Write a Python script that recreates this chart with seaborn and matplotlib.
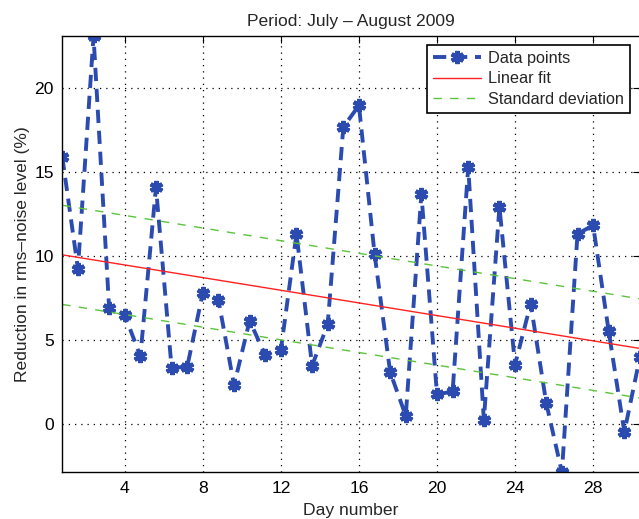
import numpy as np
import pandas as pd
import matplotlib
matplotlib.use("Agg")
import matplotlib.pyplot as plt
import seaborn as sns

# Daily measurements (day number, % reduction in rms-noise level)
days = [0.8, 1.6, 2.4, 3.2, 4.0, 4.8, 5.6, 6.4, 7.2, 8.0,
        8.8, 9.6, 10.4, 11.2, 12.0, 12.8, 13.6, 14.4, 15.2, 16.0,
        16.8, 17.6, 18.4, 19.2, 20.0, 20.8, 21.6, 22.4, 23.2, 24.0,
        24.8, 25.6, 26.4, 27.2, 28.0, 28.8, 29.6, 30.4]
reduction = [15.9, 9.25, 23.1, 6.9, 6.5, 4.05, 14.1, 3.36, 3.42, 7.82,
             7.4, 2.32, 6.17, 4.09, 4.43, 11.33, 3.48, 5.95, 17.68, 18.97,
             10.14, 3.1, 0.5, 13.7, 1.77, 1.95, 15.3, 0.26, 12.92, 3.55,
             7.17, 1.25, -2.86, 11.33, 11.83, 5.52, -0.47, 4.0]
std_offset = 2.95

x_ticks = [4, 8, 12, 16, 20, 24, 28]
y_ticks = [0, 5, 10, 15, 20]

sns.set_style("white")
plt.rcParams["font.family"] = ["Liberation Sans", "DejaVu Sans"]
fs = 12.6
plt.rcParams["font.size"] = fs

df = pd.DataFrame({"day": days, "reduction": reduction})
slope, intercept = np.polyfit(df["day"], df["reduction"], 1)
df["fit"] = intercept + slope * df["day"]
df["upper"] = df["fit"] + std_offset
df["lower"] = df["fit"] - std_offset

fig = plt.figure(figsize=(6.39, 5.19), dpi=100)
ax = fig.add_axes([0.0975, 0.09, 0.904, 0.8406])

blue = "#2b4bb0"
sns.lineplot(data=df, x="day", y="reduction", ax=ax, sort=False,
             color=blue, linewidth=2.8, marker=(6, 2, 0), markersize=9.5,
             markeredgewidth=3.0, markeredgecolor=blue,
             dashes=False, label="Data points")
ax.lines[-1].set_linestyle((0, (3.4, 2.0)))
sns.lineplot(data=df, x="day", y="fit", ax=ax, color="#ff2020",
             linewidth=1.0, label="Linear fit")
sns.lineplot(data=df, x="day", y="upper", ax=ax, color="#5cc43a",
             linewidth=1.0, label="Standard deviation")
ax.lines[-1].set_linestyle((0, (6, 6)))
sns.lineplot(data=df, x="day", y="lower", ax=ax, color="#5cc43a",
             linewidth=1.0)
ax.lines[-1].set_linestyle((0, (6, 6)))

ax.set_xlim(days[0], days[-1])
ax.set_ylim(min(reduction), max(reduction))
ax.set_xticks(x_ticks)
ax.set_yticks(y_ticks)
ax.grid(True, color="black", linestyle=(0, (1, 4)), linewidth=0.9)
ax.tick_params(direction="in", length=5, width=0.8, top=True, right=True,
               colors="black", labelsize=fs, pad=6)
for s in ax.spines.values():
    s.set_visible(True)
    s.set_color("black")
    s.set_linewidth(1.0)

ax.set_title("Period: July \u2013 August 2009", fontsize=fs, pad=7)
ax.set_xlabel("Day number", fontsize=fs, labelpad=5)
ax.set_ylabel("Reduction in rms\u2013noise level (%)", fontsize=fs, labelpad=3)

leg_fs = 11.7
leg = ax.legend(loc="upper right", bbox_to_anchor=(0.982, 0.979),
                frameon=True, fancybox=False, framealpha=1,
                edgecolor="black", fontsize=leg_fs, handlelength=2.95,
                borderaxespad=0.0, labelspacing=0.33, borderpad=0.36,
                handletextpad=0.43)
leg.get_frame().set_linewidth(1.2)

fig.savefig("out.png", dpi=100)
